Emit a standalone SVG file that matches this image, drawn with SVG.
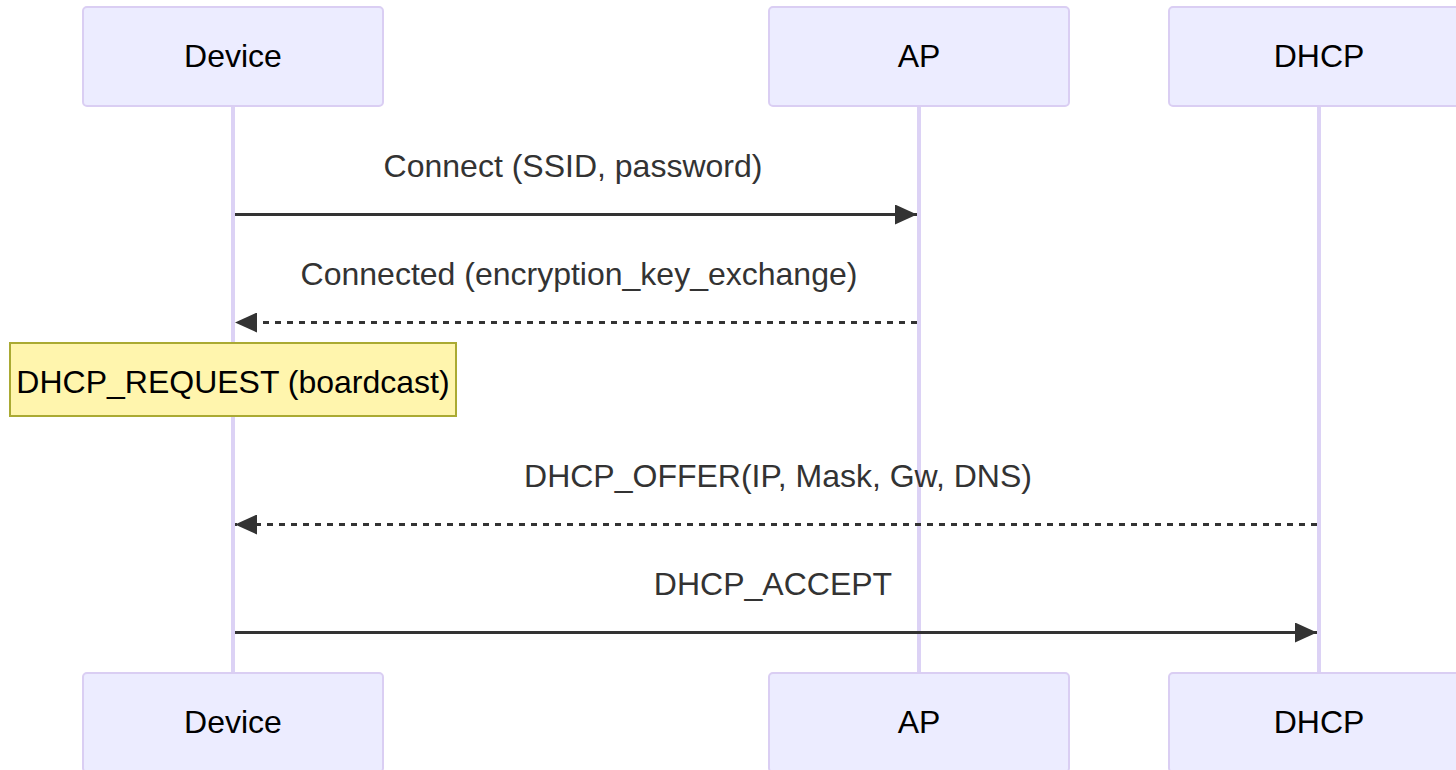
<svg xmlns="http://www.w3.org/2000/svg" width="1456" height="770" viewBox="0 0 1456 770">
<style>
.actor{fill:#ECECFF;stroke:#DACEF3;stroke-width:2}
.atext{font-family:"Liberation Sans",Arial,sans-serif;font-size:32px;fill:#000;text-anchor:middle;dominant-baseline:central}
.life{stroke:#DCD2F5;stroke-width:4}
.msg{stroke:#333;stroke-width:3;fill:none}
.dash{stroke-dasharray:6,6}
.mtext{font-family:"Liberation Sans",Arial,sans-serif;font-size:32px;fill:#333;text-anchor:middle;dominant-baseline:central}
.note{fill:#FFF5AD;stroke:#AAAA33;stroke-width:2}
.ntext{font-family:"Liberation Sans",Arial,sans-serif;font-size:32px;fill:#000;text-anchor:middle;dominant-baseline:central}
</style>
<defs>
<marker id="arrow" viewBox="0 0 22 20" refX="22" refY="10" markerWidth="22" markerHeight="20" markerUnits="userSpaceOnUse" orient="auto">
<path d="M0,0 L22,10 L0,20 Z" fill="#333"/>
</marker>
</defs>
<g id="lifelines">
<line class="life" x1="233" y1="106" x2="233" y2="673"/>
<line class="life" x1="919" y1="106" x2="919" y2="673"/>
<line class="life" x1="1319" y1="106" x2="1319" y2="673"/>
</g>
<g id="actor-device-top"><rect class="actor" x="83" y="7" width="300" height="99" rx="4"/><text class="atext" x="233" y="56">Device</text></g>
<g id="actor-ap-top"><rect class="actor" x="769" y="7" width="300" height="99" rx="4"/><text class="atext" x="919" y="56">AP</text></g>
<g id="actor-dhcp-top"><rect class="actor" x="1169" y="7" width="300" height="99" rx="4"/><text class="atext" x="1319" y="56">DHCP</text></g>
<g id="connectors">
<text class="mtext" x="573" y="166">Connect (SSID, password)</text>
<line class="msg" x1="235" y1="214.5" x2="917" y2="214.5" marker-end="url(#arrow)"/>
<text class="mtext" x="579" y="274">Connected (encryption_key_exchange)</text>
<line class="msg dash" x1="917" y1="322.5" x2="235" y2="322.5" marker-end="url(#arrow)"/>
<text class="mtext" x="778" y="476">DHCP_OFFER(IP, Mask, Gw, DNS)</text>
<line class="msg dash" x1="1317" y1="524.5" x2="235" y2="524.5" marker-end="url(#arrow)"/>
<text class="mtext" x="773" y="584">DHCP_ACCEPT</text>
<line class="msg" x1="235" y1="632.5" x2="1317" y2="632.5" marker-end="url(#arrow)"/>
</g>
<g id="note-dhcp-request"><rect class="note" x="10" y="343" width="446" height="73"/><text class="ntext" x="233" y="382">DHCP_REQUEST (boardcast)</text></g>
<g id="actor-device-bottom"><rect class="actor" x="83" y="673" width="300" height="99" rx="4"/><text class="atext" x="233" y="722">Device</text></g>
<g id="actor-ap-bottom"><rect class="actor" x="769" y="673" width="300" height="99" rx="4"/><text class="atext" x="919" y="722">AP</text></g>
<g id="actor-dhcp-bottom"><rect class="actor" x="1169" y="673" width="300" height="99" rx="4"/><text class="atext" x="1319" y="722">DHCP</text></g>
</svg>
